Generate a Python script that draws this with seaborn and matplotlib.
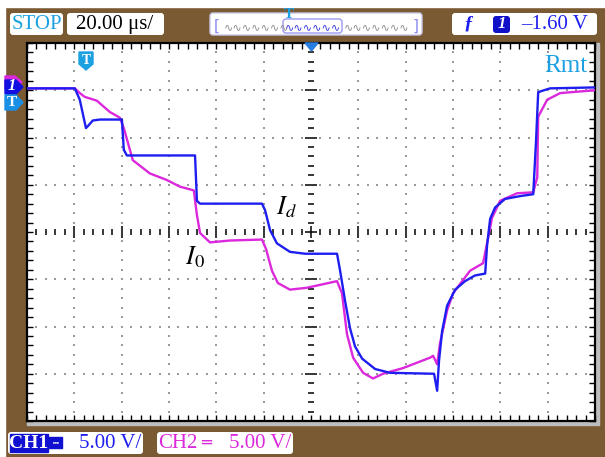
import matplotlib
matplotlib.use("Agg")
import matplotlib.pyplot as plt
import seaborn as sns
import pandas as pd
import numpy as np
from matplotlib.patches import FancyBboxPatch, Rectangle, Polygon
from matplotlib.ticker import MultipleLocator

# Scope settings
time_per_div = 20   # us/div
volt_per_div = 5    # V/div

# CH1 (blue, I_d): time in us, voltage in V
ch1_t = [-120, -99.8, -97.7, -95.1, -94.3, -92.2, -89.2, -79.9, -79.1, -77.8,
         -49.0, -48.2, -46.9, -20.7, -19.4, -17.3, -14.4, -8.9, -2.5, 11.0,
         12.3, 14.4, 16.5, 18.6, 21.6, 27.1, 33.4, 52.0, 53.3, 54.1,
         55.4, 57.5, 60.9, 65.1, 69.3, 73.6, 74.4, 75.7, 77.8, 82.0,
         88.4, 93.9, 95.1, 96.0, 101.0, 120]
ch1_v = [15.2, 15.2, 14.0, 11.0, 11.2, 11.8, 11.9, 11.9, 8.7, 8.1,
         8.1, 3.3, 3.0, 3.0, 2.3, 0.2, -1.2, -2.1, -2.3, -2.3,
         -4.1, -7.3, -10.2, -12.1, -13.4, -14.5, -14.9, -15.0, -16.8, -13.6,
         -10.5, -7.8, -6.1, -5.2, -4.6, -4.4, -1.4, 1.4, 2.6, 3.5,
         3.8, 4.0, 9.7, 14.8, 15.2, 15.3]

# CH2 (magenta, I_0)
ch2_t = [-120, -99.8, -97.7, -95.6, -90.5, -85.0, -80.8, -79.1, -75.3, -68.1,
         -60.9, -55.4, -49.5, -48.2, -46.9, -42.7, -34.2, -20.7, -19.0, -16.5,
         -14.0, -8.9, -1.7, 11.0, 13.1, 15.2, 17.8, 22.0, 26.2, 30.4,
         38.9, 50.3, 51.6, 53.3, 54.5, 57.5, 60.0, 67.2, 72.7, 74.4,
         76.5, 79.9, 87.1, 93.9, 95.6, 96.0, 99.8, 105.3, 120]
ch2_v = [15.2, 15.2, 14.7, 14.3, 13.9, 12.7, 12.1, 11.0, 7.6, 6.2,
         5.5, 4.8, 4.4, 1.8, -0.1, -1.1, -0.9, -0.8, -1.8, -4.1,
         -5.4, -6.1, -5.9, -5.2, -6.5, -10.8, -13.3, -14.9, -15.5, -15.0,
         -14.4, -13.3, -13.1, -14.0, -11.8, -8.3, -6.5, -4.1, -3.3, -1.2,
         1.5, 3.3, 4.1, 4.2, 5.8, 12.2, 14.0, 14.7, 15.0]

df = pd.concat([
    pd.DataFrame({"t": ch2_t, "v": ch2_v, "ch": "CH2"}),
    pd.DataFrame({"t": ch1_t, "v": ch1_v, "ch": "CH1"}),
], ignore_index=True)

BROWN = "#7a5a33"
BLUE = "#1e1ef0"
MAGENTA = "#dc28dc"
CYAN = "#1ba1e2"

sns.set_style("white")
plt.rcParams["font.family"] = ["Liberation Serif", "DejaVu Serif", "DejaVu Sans"]
plt.rcParams["mathtext.fontset"] = "stix"

W, H = 605, 457
fig = plt.figure(figsize=(W / 100, H / 100), dpi=100, facecolor=BROWN)

# background overlay (pixel coords)
back = fig.add_axes([0, 0, 1, 1], zorder=-1)
back.set_xlim(0, W)
back.set_ylim(H, 0)
back.axis("off")
back.add_patch(Rectangle((0, 0), W, 7, color="white"))
back.add_patch(Rectangle((0, 0), 5, H, color="white"))
back.add_patch(Rectangle((27, 43), 572, 382, color="#bdbdbd"))

# scope screen
left, right, top, bottom = 27, 595, 43, 421
ax = fig.add_axes([left / W, 1 - bottom / H, (right - left) / W, (bottom - top) / H])
ax.set_facecolor("white")
xlim = 6 * time_per_div
ylim = 4 * volt_per_div
ax.set_xlim(-xlim, xlim)
ax.set_ylim(-ylim, ylim)

# dotted graticule
dot_x, dot_y = [], []
for gx in np.arange(-xlim + time_per_div, xlim, time_per_div):
    if abs(gx) < 1e-9:
        continue
    for yy in np.arange(-ylim + 1, ylim, volt_per_div / 5):
        if abs(yy) > 1e-9:
            dot_x.append(gx)
            dot_y.append(yy)
for gy in np.arange(-ylim + volt_per_div, ylim, volt_per_div):
    if abs(gy) < 1e-9:
        continue
    for xx in np.arange(-xlim + 4, xlim, time_per_div / 5):
        if abs(xx) > 1e-9:
            dot_x.append(xx)
            dot_y.append(gy)
ax.scatter(dot_x, dot_y, s=2.2, marker="s", color="#9a9a9a", linewidths=0, zorder=1)

# center cross ticks
cx = np.arange(-xlim + 4, xlim, time_per_div / 5)
major_x = np.isclose(cx % time_per_div, 0)
ax.plot(cx[~major_x], np.zeros((~major_x).sum()), ls="none", marker="|", ms=4.5, mew=1.1, color="black", zorder=2)
ax.plot(cx[major_x], np.zeros(major_x.sum()), ls="none", marker="|", ms=8.5, mew=1.1, color="black", zorder=2)
cy = np.arange(-ylim + 1, ylim, volt_per_div / 5)
major_y = np.isclose(cy % volt_per_div, 0)
ax.plot(np.zeros((~major_y).sum()), cy[~major_y], ls="none", marker="_", ms=4.5, mew=1.1, color="black", zorder=2)
ax.plot(np.zeros(major_y.sum()), cy[major_y], ls="none", marker="_", ms=8.5, mew=1.1, color="black", zorder=2)

# traces
sns.lineplot(data=df, x="t", y="v", hue="ch", palette={"CH1": BLUE, "CH2": MAGENTA},
             hue_order=["CH2", "CH1"], sort=False, estimator=None, legend=False,
             linewidth=1.7, ax=ax, zorder=3)

# frame ticks
ax.xaxis.set_major_locator(MultipleLocator(time_per_div / 5))
ax.yaxis.set_major_locator(MultipleLocator(volt_per_div / 5))
ax.tick_params(direction="in", length=4.5, width=1, color="black",
               top=True, right=True, bottom=True, left=True,
               labelbottom=False, labelleft=False)
ax.set_xlabel("")
ax.set_ylabel("")
for sp in ax.spines.values():
    sp.set_visible(True)
    sp.set_color("black")
    sp.set_linewidth(1.6)

# front overlay (pixel coords)
ov = fig.add_axes([0, 0, 1, 1], zorder=5)
ov.set_xlim(0, W)
ov.set_ylim(H, 0)
ov.axis("off")
ov.patch.set_alpha(0)


def box(x, y, w, h, fc="white", ec="none", lw=0):
    ov.add_patch(FancyBboxPatch((x, y), w, h, boxstyle="round,pad=0,rounding_size=3",
                                fc=fc, ec=ec, lw=lw))


# top bar
box(10, 13, 53, 22)
ov.text(36.5, 24.5, "STOP", color=CYAN, fontsize=15, ha="center", va="center")
box(67, 13, 97, 22)
ov.text(115, 24.5, "20.00 μs/", color="black", fontsize=15, ha="center", va="center")
box(210, 13, 212, 22, ec="#c8c8e8", lw=1)
ov.text(217, 26, "[", color="#8c8cf0", fontsize=11, ha="center", va="center", family="DejaVu Sans")
ov.text(416, 26, "]", color="#8c8cf0", fontsize=11, ha="center", va="center", family="DejaVu Sans")
ov.text(224, 27, "∿∿∿∿∿∿∿", color="#8a8a8a", fontsize=8, ha="left", va="center", family="DejaVu Sans")
ov.text(409, 27, "∿∿∿∿∿∿∿", color="#8a8a8a", fontsize=8, ha="right", va="center", family="DejaVu Sans")
box(283, 19, 59, 14, ec="#9a9af0", lw=1)
ov.text(312.5, 27, "∿∿∿∿∿∿", color="#3434e0", fontsize=8, ha="center", va="center", family="DejaVu Sans")
ov.text(289, 14, "T", color=CYAN, fontsize=11, ha="center", va="center", fontweight="bold")
box(452, 13, 145, 22)
ov.text(468, 24.5, "ƒ", color=BLUE, fontsize=14, ha="center", va="center", fontweight="bold", style="italic")
box(493, 16, 17, 17, fc="#1010c8")
ov.text(501.5, 24.5, "1", color="white", fontsize=12, ha="center", va="center", style="italic", fontweight="bold")
ov.text(555, 24.5, "–1.60 V", color=BLUE, fontsize=15, ha="center", va="center")

# trigger position and markers
ov.add_patch(Polygon([(305, 43), (318, 43), (311.5, 51)], closed=True, color="#2a7de0"))
ov.add_patch(Polygon([(79, 52), (93, 52), (93, 64), (86, 70), (79, 64)], closed=True, color=CYAN))
ov.text(86, 60, "T", color="white", fontsize=10, ha="center", va="center", fontweight="bold")
ov.add_patch(Polygon([(5, 76), (15, 76), (22, 82), (15, 89), (5, 89)], closed=True, color=MAGENTA))
ov.add_patch(Polygon([(5, 80), (16, 80), (23, 87), (16, 94), (5, 94)], closed=True, color="#1010e0"))
ov.text(12, 86, "1", color="white", fontsize=12, ha="center", va="center", style="italic", fontweight="bold")
ov.add_patch(Polygon([(5, 95), (16, 95), (23, 102.5), (16, 110), (5, 110)], closed=True, color="#1a8fe6"))
ov.text(12, 102.5, "T", color="white", fontsize=11, ha="center", va="center", fontweight="bold")

ov.text(566, 66, "Rmt", color=CYAN, fontsize=18, ha="center", va="center")
ov.text(286, 207, r"$I_d$", color="black", fontsize=19, ha="center", va="center")
ov.text(195, 257, r"$I_0$", color="black", fontsize=19, ha="center", va="center")

# bottom bar
box(8, 432, 135, 22)
ov.add_patch(Rectangle((10, 434), 38, 18, color="#1010d0"))
ov.text(29, 443.5, "CH1", color="white", fontsize=14, ha="center", va="center", fontweight="bold")
ov.add_patch(Rectangle((49, 437), 13, 11, color="#1010d0"))
ov.text(55.5, 442.5, "┅", color="white", fontsize=7, ha="center", va="center", family="DejaVu Sans")
ov.text(110, 443.5, "5.00 V/", color=BLUE, fontsize=15, ha="center", va="center")
box(157, 432, 136, 22)
ov.text(178, 443.5, "CH2", color=MAGENTA, fontsize=15, ha="center", va="center")
ov.text(206, 443, "═", color=MAGENTA, fontsize=12, ha="center", va="center", family="DejaVu Sans")
ov.text(260, 443.5, "5.00 V/", color=MAGENTA, fontsize=15, ha="center", va="center")

fig.savefig("out.png", dpi=100, facecolor=BROWN)
plt.close(fig)
